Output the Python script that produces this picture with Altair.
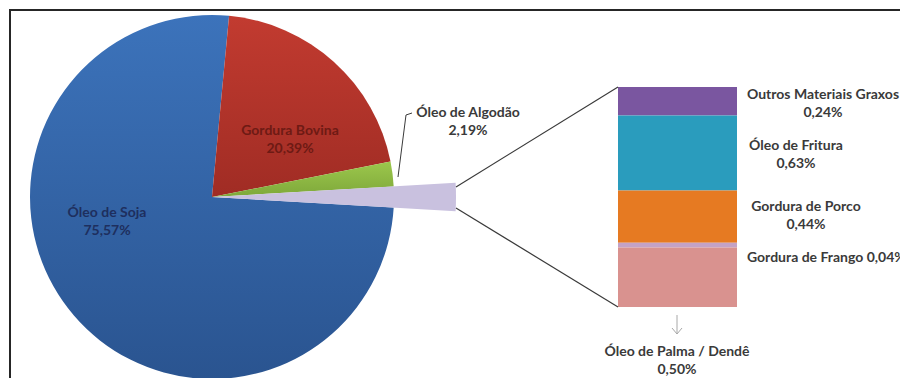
import math
import altair as alt
import pandas as pd

# ---- data ----
pie_labels = ["Gordura Bovina", "Óleo de Algodão", "Outros", "Óleo de Soja"]
pie_values = [20.39, 2.19, 1.85, 75.57]
bar_labels = ["Outros Materiais Graxos", "Óleo de Fritura", "Gordura de Porco",
              "Gordura de Frango", "Óleo de Palma / Dendê"]
bar_values = [0.24, 0.63, 0.44, 0.04, 0.50]
bar_colors = ["#7a56a0", "#2a9cbd", "#e67a22", "#c4a2c6", "#d9928f"]


def pct(v):
    return f"{v:.2f}".replace(".", ",") + "%"


pie_df = pd.DataFrame({"name": pie_labels, "value": pie_values, "idx": list(range(len(pie_labels)))})
bar_df = pd.DataFrame({"name": bar_labels, "value": bar_values, "idx": list(range(len(bar_labels)))})

FONT = "Lato"
CX, CY, R = 212, 197, 182
R_OUT = 244

total = sum(pie_values)
# rotate so the "Outros" slice is centred on the horizontal (3 o'clock)
off = math.pi / 2 - (pie_values[0] + pie_values[1] + pie_values[2] / 2) / total * 2 * math.pi
theta_scale = alt.Scale(domain=[0, total], range=[off, off + 2 * math.pi])

base_pie = alt.Chart(pie_df).transform_stack(
    stack="value", groupby=[], as_=["t0", "t1"], sort=[alt.SortField("idx")]
)


def grad(c1, c2):
    return alt.Gradient(gradient="linear",
                        stops=[alt.GradientStop(color=c1, offset=0),
                               alt.GradientStop(color=c2, offset=1)],
                        x1=0, x2=0, y1=0, y2=1)


def slice_layer(name, fill, radius):
    return base_pie.transform_filter(alt.datum.name == name).mark_arc(
        fill=fill, outerRadius=radius, stroke=None
    ).encode(
        theta=alt.Theta("t0:Q", scale=theta_scale),
        theta2="t1:Q",
        x=alt.value(CX), y=alt.value(CY),
    )


pie_layers = [
    slice_layer(pie_labels[3], grad("#3c73bb", "#2a5490"), R),
    slice_layer(pie_labels[0], grad("#c23b30", "#a02c24"), R),
    slice_layer(pie_labels[1], grad("#9cc74c", "#7ea83a"), R),
    slice_layer(pie_labels[2], "#c9c1df", R_OUT),
]

bar = alt.Chart(bar_df).transform_stack(
    stack="value", groupby=[], as_=["y0", "y1"], sort=[alt.SortField("idx")]
).mark_rect().encode(
    x=alt.value(618), x2=alt.value(737),
    y=alt.Y("y0:Q", scale=alt.Scale(domain=[0, sum(bar_values)], range=[87, 307], nice=False, zero=True), axis=None),
    y2="y1:Q",
    color=alt.Color("name:N", scale=alt.Scale(domain=bar_labels, range=bar_colors), legend=None),
)

one = alt.Data(values=[{"k": 1}])


def rule(x1, y1, x2, y2, color="#3a3a3a", w=1.2):
    return alt.Chart(one).mark_rule(color=color, strokeWidth=w).encode(
        x=alt.value(x1), y=alt.value(y1), x2=alt.value(x2), y2=alt.value(y2))


def label(text, x, y, color="#3a3a3a", align="center", size=14):
    # y is the position of the first line
    return alt.Chart(alt.Data(values=[{"t": text}])).mark_text(
        font=FONT, fontWeight="bold", fontSize=size, color=color, align=align,
        baseline="middle", lineBreak="\n", lineHeight=17.5,
    ).encode(x=alt.value(x), y=alt.value(y), text="t:N")


lines = [
    rule(456, 187, 618, 87),
    rule(456, 208, 618, 307),
    rule(398, 177, 406, 115, w=1),
    rule(406, 115, 412, 113, w=1),
    rule(677, 315, 677, 334, color="#a8a8a8", w=1),
    rule(672, 328, 677, 334, color="#a8a8a8", w=1),
    rule(682, 328, 677, 334, color="#a8a8a8", w=1),
]

texts = [
    label(f"{pie_labels[0]}\n{pct(pie_values[0])}", 290, 131, color="#6e1a14"),
    label(f"{pie_labels[3]}\n{pct(pie_values[3])}", 107, 213, color="#1e2f5e"),
    label(f"{pie_labels[1]}\n{pct(pie_values[1])}", 468, 113),
    label(f"{bar_labels[0]}\n{pct(bar_values[0])}", 823, 95),
    label(f"{bar_labels[1]}\n{pct(bar_values[1])}", 796, 146),
    label(f"{bar_labels[2]}\n{pct(bar_values[2])}", 806, 207),
    label(f"{bar_labels[3]} {pct(bar_values[3])}", 747, 258, align="left"),
    label(f"{bar_labels[4]}\n{pct(bar_values[4])}", 677, 352),
]

frame = alt.Chart(one).mark_rect(filled=False, stroke="#262626", strokeWidth=2).encode(
    x=alt.value(10), y=alt.value(10), x2=alt.value(930), y2=alt.value(420))

chart = alt.layer(frame, *pie_layers, bar, *lines, *texts).properties(
    width=900, height=378, padding=0, autosize="none", background="white"
).configure_view(stroke=None)

chart.save("out.html", embed_options={"renderer": "svg", "actions": False})
